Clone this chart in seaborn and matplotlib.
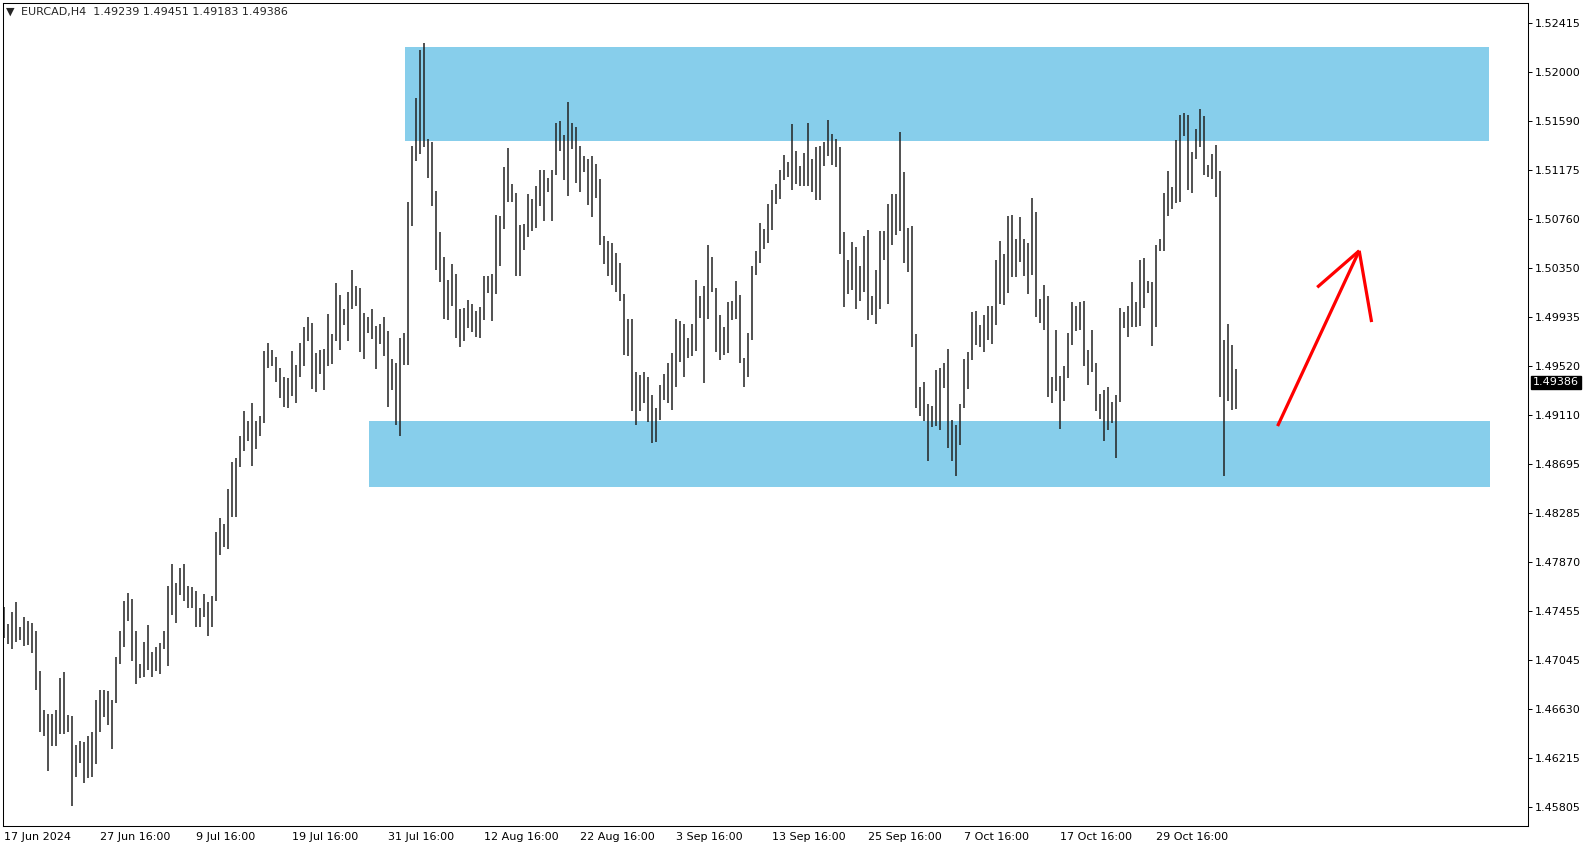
import matplotlib
matplotlib.use('Agg')
import matplotlib.pyplot as plt
import seaborn as sns
import numpy as np

# EURCAD H4 chart, bars (two H4 bars merged per entry)
symbol = 'EURCAD,H4'
last_ohlc = [1.49239, 1.49451, 1.49183, 1.49386]

highs = [
    1.4749, 1.4735, 1.4745, 1.4753, 1.4732, 1.4741, 1.4737, 1.4736, 1.4729, 1.4695,
    1.4662, 1.4659, 1.4659, 1.4662, 1.4689, 1.4694, 1.4658, 1.4657, 1.4633, 1.4636,
    1.4635, 1.4640, 1.4644, 1.4671, 1.4679, 1.4679, 1.4678, 1.4671, 1.4707, 1.4729,
    1.4754, 1.4761, 1.4756, 1.4729, 1.4701, 1.4720, 1.4734, 1.4711, 1.4715, 1.4719,
    1.4729, 1.4767, 1.4785, 1.4769, 1.4782, 1.4785, 1.4767, 1.4766, 1.4763, 1.4748,
    1.4760, 1.4753, 1.4758, 1.4812, 1.4824, 1.4819, 1.4849, 1.4871, 1.4875, 1.4893,
    1.4914, 1.4906, 1.4921, 1.4906, 1.4910, 1.4965, 1.4972, 1.4966, 1.4960, 1.4951,
    1.4943, 1.4942, 1.4965, 1.4953, 1.4972, 1.4985, 1.4994, 1.4989, 1.4963, 1.4966,
    1.4967, 1.4996, 1.4979, 1.5022, 1.5012, 1.5000, 1.5015, 1.5033, 1.5020, 1.5018,
    1.4997, 1.4994, 1.5000, 1.4986, 1.4988, 1.4994, 1.4982, 1.4958, 1.4955, 1.4976,
    1.4980, 1.5091, 1.5138, 1.5178, 1.5219, 1.5225, 1.5144, 1.5141, 1.5100, 1.5065,
    1.5044, 1.5025, 1.5038, 1.5030, 1.5000, 1.5001, 1.5008, 1.5005, 1.4999, 1.5002,
    1.5028, 1.5028, 1.5030, 1.5080, 1.5079, 1.5120, 1.5136, 1.5106, 1.5098, 1.5071,
    1.5072, 1.5097, 1.5093, 1.5104, 1.5118, 1.5118, 1.5111, 1.5118, 1.5157, 1.5159,
    1.5147, 1.5175, 1.5157, 1.5154, 1.5138, 1.5129, 1.5127, 1.5129, 1.5123, 1.5110,
    1.5062, 1.5058, 1.5056, 1.5048, 1.5039, 1.5013, 1.4992, 1.4992, 1.4947, 1.4945,
    1.4947, 1.4943, 1.4928, 1.4917, 1.4936, 1.4946, 1.4955, 1.4963, 1.4992, 1.4990,
    1.4988, 1.4976, 1.4988, 1.5025, 1.5011, 1.5020, 1.5054, 1.5044, 1.5018, 1.4995,
    1.4985, 1.5006, 1.5007, 1.5024, 1.5012, 1.4959, 1.4980, 1.5037, 1.5049, 1.5073,
    1.5068, 1.5089, 1.5101, 1.5106, 1.5118, 1.5130, 1.5124, 1.5156, 1.5134, 1.5121,
    1.5132, 1.5157, 1.5127, 1.5137, 1.5138, 1.5141, 1.5160, 1.5148, 1.5144, 1.5137,
    1.5065, 1.5042, 1.5057, 1.5053, 1.5037, 1.5062, 1.5067, 1.5011, 1.5033, 1.5066,
    1.5066, 1.5089, 1.5097, 1.5097, 1.5150, 1.5116, 1.5069, 1.5070, 1.4979, 1.4935,
    1.4939, 1.4920, 1.4919, 1.4949, 1.4951, 1.4955, 1.4967, 1.4907, 1.4903, 1.4920,
    1.4958, 1.4964, 1.4998, 1.4999, 1.4987, 1.4995, 1.5003, 1.5003, 1.5042, 1.5058,
    1.5047, 1.5079, 1.5080, 1.5059, 1.5078, 1.5059, 1.5056, 1.5094, 1.5082, 1.5009,
    1.5021, 1.5011, 1.4943, 1.4983, 1.4944, 1.4952, 1.4980, 1.5006, 1.5003, 1.5006,
    1.5007, 1.4966, 1.4983, 1.4955, 1.4929, 1.4932, 1.4935, 1.4922, 1.4928, 1.5001,
    1.4998, 1.5003, 1.5023, 1.5006, 1.5042, 1.5043, 1.5024, 1.5023, 1.5054, 1.5059,
    1.5098, 1.5117, 1.5103, 1.5143, 1.5164, 1.5166, 1.5164, 1.5133, 1.5152, 1.5169,
    1.5163, 1.5122, 1.5131, 1.5139, 1.5117, 1.4974, 1.4988, 1.4970, 1.4950,
]
lows = [
    1.4723, 1.4718, 1.4714, 1.4720, 1.4721, 1.4716, 1.4717, 1.4710, 1.4679, 1.4644,
    1.4640, 1.4611, 1.4632, 1.4632, 1.4642, 1.4642, 1.4644, 1.4581, 1.4606, 1.4618,
    1.4601, 1.4605, 1.4606, 1.4617, 1.4644, 1.4656, 1.4650, 1.4629, 1.4668, 1.4701,
    1.4715, 1.4737, 1.4704, 1.4684, 1.4689, 1.4690, 1.4696, 1.4690, 1.4695, 1.4693,
    1.4714, 1.4699, 1.4742, 1.4736, 1.4759, 1.4754, 1.4748, 1.4748, 1.4732, 1.4732,
    1.4741, 1.4725, 1.4732, 1.4754, 1.4793, 1.4800, 1.4798, 1.4825, 1.4825, 1.4867,
    1.4881, 1.4889, 1.4868, 1.4882, 1.4893, 1.4904, 1.4951, 1.4952, 1.4939, 1.4925,
    1.4918, 1.4917, 1.4927, 1.4921, 1.4943, 1.4952, 1.4973, 1.4933, 1.4930, 1.4946,
    1.4932, 1.4952, 1.4954, 1.4973, 1.4966, 1.4987, 1.4973, 1.5000, 1.5003, 1.4964,
    1.4958, 1.4980, 1.4975, 1.4950, 1.4971, 1.4961, 1.4918, 1.4932, 1.4903, 1.4893,
    1.4953, 1.4953, 1.5070, 1.5125, 1.5131, 1.5137, 1.5111, 1.5087, 1.5033, 1.5023,
    1.4992, 1.4991, 1.5003, 1.4976, 1.4968, 1.4973, 1.4984, 1.4981, 1.4977, 1.4976,
    1.4991, 1.5014, 1.4990, 1.5013, 1.5037, 1.5068, 1.5091, 1.5091, 1.5028, 1.5028,
    1.5050, 1.5061, 1.5066, 1.5069, 1.5087, 1.5075, 1.5099, 1.5075, 1.5113, 1.5134,
    1.5109, 1.5096, 1.5135, 1.5107, 1.5099, 1.5116, 1.5088, 1.5078, 1.5094, 1.5054,
    1.5038, 1.5028, 1.5021, 1.5015, 1.5007, 1.4962, 1.4961, 1.4914, 1.4903, 1.4914,
    1.4921, 1.4905, 1.4887, 1.4888, 1.4907, 1.4924, 1.4921, 1.4915, 1.4935, 1.4956,
    1.4943, 1.4959, 1.4961, 1.4965, 1.4993, 1.4938, 1.4992, 1.5015, 1.4964, 1.4957,
    1.4962, 1.4963, 1.4991, 1.4992, 1.4955, 1.4935, 1.4943, 1.4974, 1.5029, 1.5039,
    1.5051, 1.5056, 1.5067, 1.5089, 1.5093, 1.5109, 1.5112, 1.5101, 1.5106, 1.5104,
    1.5104, 1.5104, 1.5099, 1.5092, 1.5092, 1.5121, 1.5129, 1.5122, 1.5120, 1.5047,
    1.5002, 1.5013, 1.5016, 1.5000, 1.5007, 1.5015, 1.4991, 1.4995, 1.4988, 1.5000,
    1.5042, 1.5005, 1.5054, 1.5063, 1.5066, 1.5039, 1.5032, 1.4968, 1.4917, 1.4910,
    1.4906, 1.4872, 1.4901, 1.4902, 1.4898, 1.4934, 1.4883, 1.4872, 1.4860, 1.4886,
    1.4917, 1.4933, 1.4957, 1.4970, 1.4968, 1.4964, 1.4974, 1.4971, 1.4987, 1.5005,
    1.5004, 1.5014, 1.5027, 1.5027, 1.5040, 1.5028, 1.5013, 1.5029, 1.4994, 1.4989,
    1.4983, 1.4926, 1.4921, 1.4931, 1.4899, 1.4923, 1.4942, 1.4970, 1.4982, 1.4983,
    1.4952, 1.4936, 1.4947, 1.4914, 1.4908, 1.4889, 1.4898, 1.4904, 1.4875, 1.4922,
    1.4984, 1.4977, 1.4985, 1.4985, 1.4986, 1.5001, 1.5014, 1.4969, 1.4985, 1.5049,
    1.5049, 1.5079, 1.5085, 1.5090, 1.5091, 1.5146, 1.5101, 1.5098, 1.5127, 1.5137,
    1.5113, 1.5112, 1.5110, 1.5095, 1.4926, 1.4860, 1.4923, 1.4915, 1.4916,
]

date_labels = ['17 Jun 2024', '27 Jun 16:00', '9 Jul 16:00', '19 Jul 16:00', '31 Jul 16:00',
               '12 Aug 16:00', '22 Aug 16:00', '3 Sep 16:00', '13 Sep 16:00', '25 Sep 16:00',
               '7 Oct 16:00', '17 Oct 16:00', '29 Oct 16:00']
bars_per_label = 24

price_ticks = [1.52415, 1.52000, 1.51590, 1.51175, 1.50760, 1.50350, 1.49935, 1.49520,
               1.49110, 1.48695, 1.48285, 1.47870, 1.47455, 1.47045, 1.46630, 1.46215, 1.45805]

# zones drawn on the chart (price range, bar range)
resistance_zone = [1.51420, 1.52213]
resistance_bars = [100.25, 371.25]
support_zone = [1.48505, 1.49059]
support_bars = [91.25, 371.5]

# hand-drawn arrow: tail, tip and the two head ends (bar index, price)
arrow_tail = [318.4, 1.49017]
arrow_tip = [338.8, 1.50495]
arrow_head_l = [328.3, 1.50187]
arrow_head_r = [341.9, 1.49894]

sns.set_style('white')
plt.rcParams['font.family'] = ['DejaVu Sans']

W, H = 1592, 850
fig = plt.figure(figsize=(W / 100, H / 100), dpi=100)
ax = fig.add_axes([3 / W, 24 / H, 1525 / W, 823 / H])

sky = '#87CEEB'
ax.fill_between(resistance_bars, resistance_zone[0], resistance_zone[1], color=sky, lw=0, zorder=1)
ax.fill_between(support_bars, support_zone[0], support_zone[1], color=sky, lw=0, zorder=1)

x = np.arange(len(highs))
ax.vlines(x, lows, highs, color='#222222', linewidth=1.1, zorder=2)

for p in (arrow_tail, arrow_head_l, arrow_head_r):
    ax.plot([p[0], arrow_tip[0]], [p[1], arrow_tip[1]], color='red', lw=2.3,
            solid_capstyle='butt', zorder=3)

ax.set_xlim(-0.25, 381)
ax.set_ylim(1.45645, 1.52584)

ax.yaxis.tick_right()
ax.set_yticks(price_ticks)
ax.set_yticklabels([f'{v:.5f}' for v in price_ticks])
ax.set_xticks(np.arange(len(date_labels)) * bars_per_label)
ax.set_xticklabels(date_labels, ha='left')
ax.tick_params(axis='both', direction='out', length=3, width=0.7, colors='black',
               labelsize=8, pad=2)
ax.tick_params(axis='x', pad=1.5)

for s in ax.spines.values():
    s.set_color('black')
    s.set_linewidth(0.75)

# current price tag on the price scale
ax.annotate(f'{last_ohlc[3]:.5f}', xy=(1, last_ohlc[3]), xycoords=('axes fraction', 'data'),
            xytext=(5, 0), textcoords='offset pixels', va='center', ha='left',
            color='white', fontsize=8, annotation_clip=False,
            bbox=dict(boxstyle='square,pad=0.15', fc='black', ec='black'))

fig.text(6 / W, 1 - 12 / H, '\u25bc', fontsize=8, va='center', ha='left')
fig.text(21 / W, 1 - 12 / H, symbol + '  ' + ' '.join(f'{v:.5f}' for v in last_ohlc),
         fontsize=8, va='center', ha='left')

fig.savefig('out.png', dpi=100)
